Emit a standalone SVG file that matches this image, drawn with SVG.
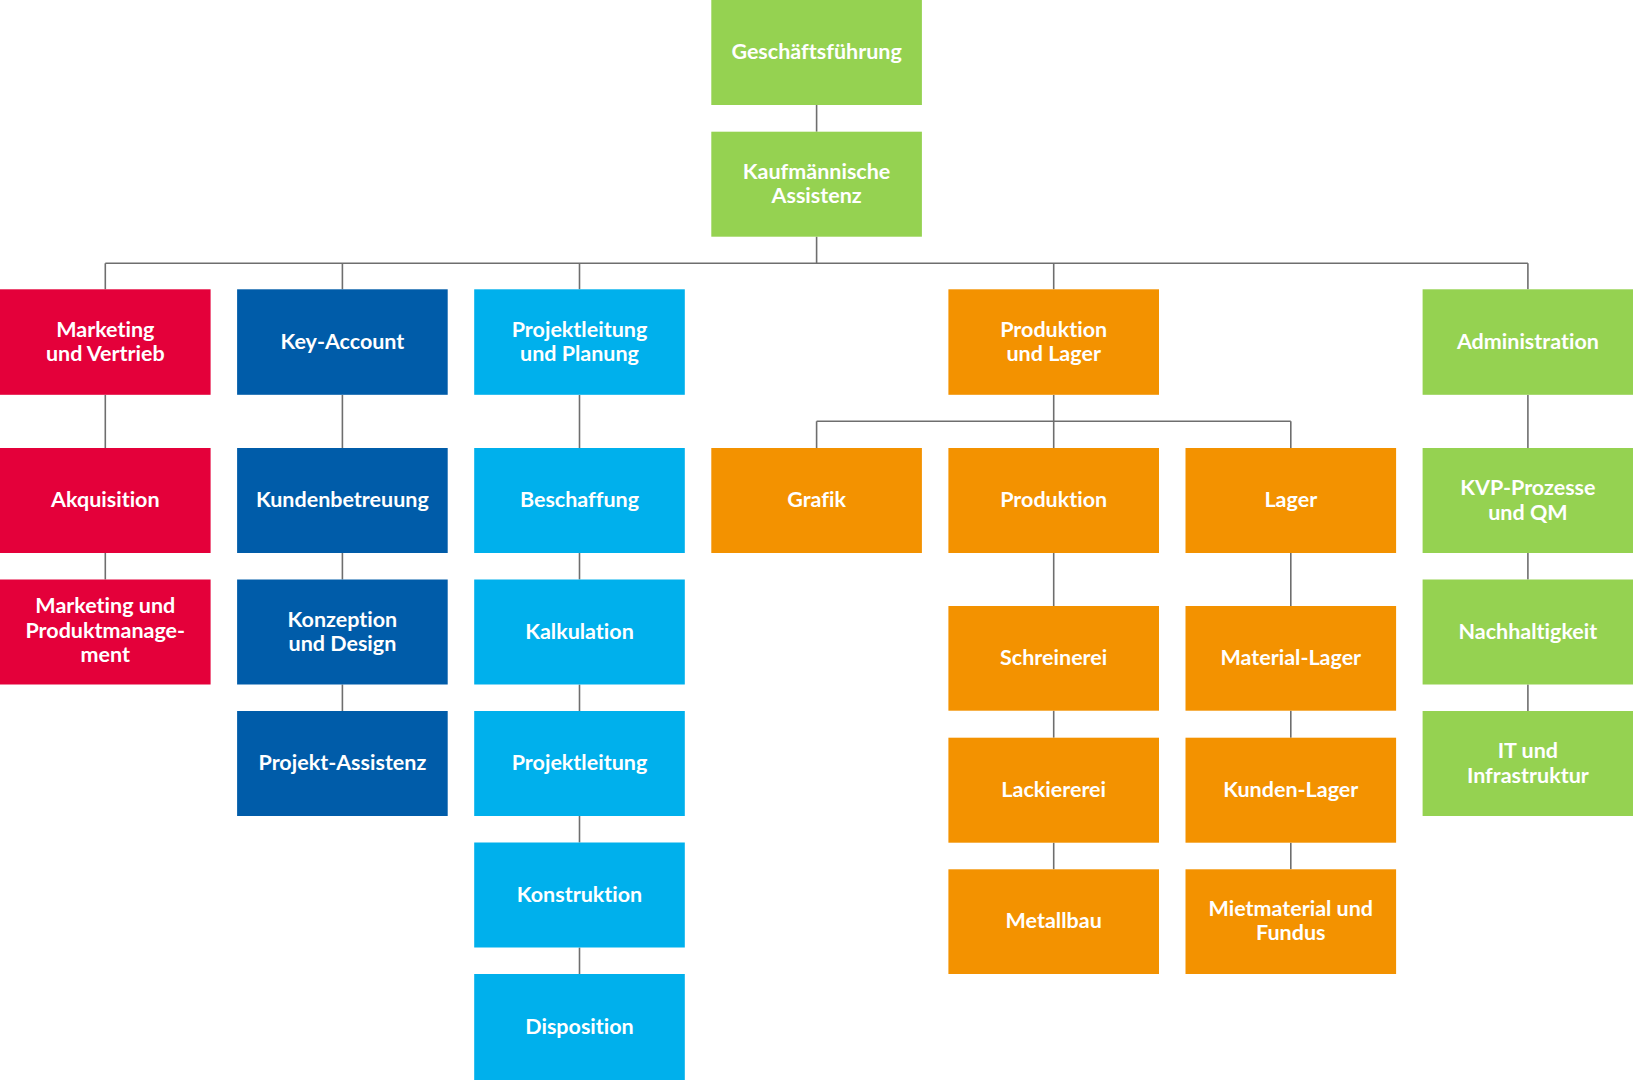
<svg xmlns="http://www.w3.org/2000/svg" width="1633" height="1080" viewBox="0 0 1633 1080">
<style>
text{font-family:Lato,"Liberation Sans",Arial,sans-serif;font-weight:700;font-size:21.5px;fill:#ffffff;text-anchor:middle;font-variant-ligatures:none;font-feature-settings:"liga" 0,"dlig" 0}
.g{fill:#95d251}.r{fill:#e4003a}.b{fill:#005ca9}.c{fill:#00b0ec}.o{fill:#f39200}
#connectors line{stroke:#6e6e6e;stroke-width:1.6;fill:none}
</style>
<rect width="1633" height="1080" fill="#ffffff"/>
<g id="connectors">
<line x1="816.6" y1="105" x2="816.6" y2="131.7"/>
<line x1="816.6" y1="236.7" x2="816.6" y2="263.3"/>
<line x1="105.3" y1="263.3" x2="1527.9" y2="263.3"/>
<line x1="105.3" y1="263.3" x2="105.3" y2="289.3"/>
<line x1="342.4" y1="263.3" x2="342.4" y2="289.3"/>
<line x1="579.5" y1="263.3" x2="579.5" y2="289.3"/>
<line x1="1053.7" y1="263.3" x2="1053.7" y2="289.3"/>
<line x1="1527.9" y1="263.3" x2="1527.9" y2="289.3"/>
<line x1="105.3" y1="395" x2="105.3" y2="448"/>
<line x1="105.3" y1="553" x2="105.3" y2="579.5"/>
<line x1="342.4" y1="395" x2="342.4" y2="448"/>
<line x1="342.4" y1="553" x2="342.4" y2="579.5"/>
<line x1="342.4" y1="684.5" x2="342.4" y2="711"/>
<line x1="579.5" y1="395" x2="579.5" y2="448"/>
<line x1="579.5" y1="553" x2="579.5" y2="579.5"/>
<line x1="579.5" y1="684.5" x2="579.5" y2="711"/>
<line x1="579.5" y1="816" x2="579.5" y2="842.5"/>
<line x1="579.5" y1="947.5" x2="579.5" y2="974"/>
<line x1="1053.7" y1="395" x2="1053.7" y2="448"/>
<line x1="816.6" y1="421.3" x2="1290.8" y2="421.3"/>
<line x1="816.6" y1="421.3" x2="816.6" y2="448"/>
<line x1="1290.8" y1="421.3" x2="1290.8" y2="448"/>
<line x1="1053.7" y1="553" x2="1053.7" y2="606"/>
<line x1="1053.7" y1="710.7" x2="1053.7" y2="737.7"/>
<line x1="1053.7" y1="842.7" x2="1053.7" y2="869.3"/>
<line x1="1290.8" y1="553" x2="1290.8" y2="606"/>
<line x1="1290.8" y1="710.7" x2="1290.8" y2="737.7"/>
<line x1="1290.8" y1="842.7" x2="1290.8" y2="869.3"/>
<line x1="1527.9" y1="395" x2="1527.9" y2="448"/>
<line x1="1527.9" y1="553" x2="1527.9" y2="579.5"/>
<line x1="1527.9" y1="684.5" x2="1527.9" y2="711"/>
</g>

<g id="geschaeftsfuehrung"><rect class="g" x="711.3" y="0" width="210.6" height="105"/><text x="816.6" y="59">Geschäftsführung</text></g>
<g id="kaufmaennische-assistenz"><rect class="g" x="711.3" y="131.7" width="210.6" height="105"/><text x="816.6" y="178.5">Kaufmännische</text><text x="816.6" y="203">Assistenz</text></g>

<g id="marketing-vertrieb"><rect class="r" x="0" y="289.3" width="210.6" height="105.5"/><text x="105.3" y="336.5">Marketing</text><text x="105.3" y="361">und Vertrieb</text></g>
<g id="akquisition"><rect class="r" x="0" y="448" width="210.6" height="105"/><text x="105.3" y="507">Akquisition</text></g>
<g id="marketing-produktmanagement"><rect class="r" x="0" y="579.5" width="210.6" height="105"/><text x="105.3" y="613">Marketing und</text><text x="105.3" y="637.6">Produktmanage-</text><text x="105.3" y="662.2">ment</text></g>

<g id="key-account"><rect class="b" x="237.1" y="289.3" width="210.6" height="105.5"/><text x="342.4" y="348.5">Key-Account</text></g>
<g id="kundenbetreuung"><rect class="b" x="237.1" y="448" width="210.6" height="105"/><text x="342.4" y="507">Kundenbetreuung</text></g>
<g id="konzeption-design"><rect class="b" x="237.1" y="579.5" width="210.6" height="105"/><text x="342.4" y="626.5">Konzeption</text><text x="342.4" y="651">und Design</text></g>
<g id="projekt-assistenz"><rect class="b" x="237.1" y="711" width="210.6" height="105"/><text x="342.4" y="770">Projekt-Assistenz</text></g>

<g id="projektleitung-planung"><rect class="c" x="474.2" y="289.3" width="210.6" height="105.5"/><text x="579.5" y="336.5">Projektleitung</text><text x="579.5" y="361">und Planung</text></g>
<g id="beschaffung"><rect class="c" x="474.2" y="448" width="210.6" height="105"/><text x="579.5" y="507">Beschaffung</text></g>
<g id="kalkulation"><rect class="c" x="474.2" y="579.5" width="210.6" height="105"/><text x="579.5" y="638.5">Kalkulation</text></g>
<g id="projektleitung"><rect class="c" x="474.2" y="711" width="210.6" height="105"/><text x="579.5" y="770">Projektleitung</text></g>
<g id="konstruktion"><rect class="c" x="474.2" y="842.5" width="210.6" height="105"/><text x="579.5" y="901.5">Konstruktion</text></g>
<g id="disposition"><rect class="c" x="474.2" y="974" width="210.6" height="106"/><text x="579.5" y="1033.5">Disposition</text></g>

<g id="produktion-lager"><rect class="o" x="948.4" y="289.3" width="210.6" height="105.5"/><text x="1053.7" y="336.5">Produktion</text><text x="1053.7" y="361">und Lager</text></g>
<g id="grafik"><rect class="o" x="711.3" y="448" width="210.6" height="105"/><text x="816.6" y="507">Grafik</text></g>
<g id="produktion"><rect class="o" x="948.4" y="448" width="210.6" height="105"/><text x="1053.7" y="507">Produktion</text></g>
<g id="lager"><rect class="o" x="1185.5" y="448" width="210.6" height="105"/><text x="1290.8" y="507">Lager</text></g>
<g id="schreinerei"><rect class="o" x="948.4" y="606" width="210.6" height="104.7"/><text x="1053.7" y="665">Schreinerei</text></g>
<g id="lackiererei"><rect class="o" x="948.4" y="737.7" width="210.6" height="105"/><text x="1053.7" y="796.5">Lackiererei</text></g>
<g id="metallbau"><rect class="o" x="948.4" y="869.3" width="210.6" height="104.7"/><text x="1053.7" y="928.2">Metallbau</text></g>
<g id="material-lager"><rect class="o" x="1185.5" y="606" width="210.6" height="104.7"/><text x="1290.8" y="665">Material-Lager</text></g>
<g id="kunden-lager"><rect class="o" x="1185.5" y="737.7" width="210.6" height="105"/><text x="1290.8" y="796.5">Kunden-Lager</text></g>
<g id="mietmaterial-fundus"><rect class="o" x="1185.5" y="869.3" width="210.6" height="104.7"/><text x="1290.8" y="915.7">Mietmaterial und</text><text x="1290.8" y="940.3">Fundus</text></g>

<g id="administration"><rect class="g" x="1422.6" y="289.3" width="210.6" height="105.5"/><text x="1527.9" y="348.5">Administration</text></g>
<g id="kvp-prozesse-qm"><rect class="g" x="1422.6" y="448" width="210.6" height="105"/><text x="1527.9" y="495">KVP-Prozesse</text><text x="1527.9" y="519.5">und QM</text></g>
<g id="nachhaltigkeit"><rect class="g" x="1422.6" y="579.5" width="210.6" height="105"/><text x="1527.9" y="638.5">Nachhaltigkeit</text></g>
<g id="it-infrastruktur"><rect class="g" x="1422.6" y="711" width="210.6" height="105"/><text x="1527.9" y="758">IT und</text><text x="1527.9" y="782.5">Infrastruktur</text></g>
</svg>
